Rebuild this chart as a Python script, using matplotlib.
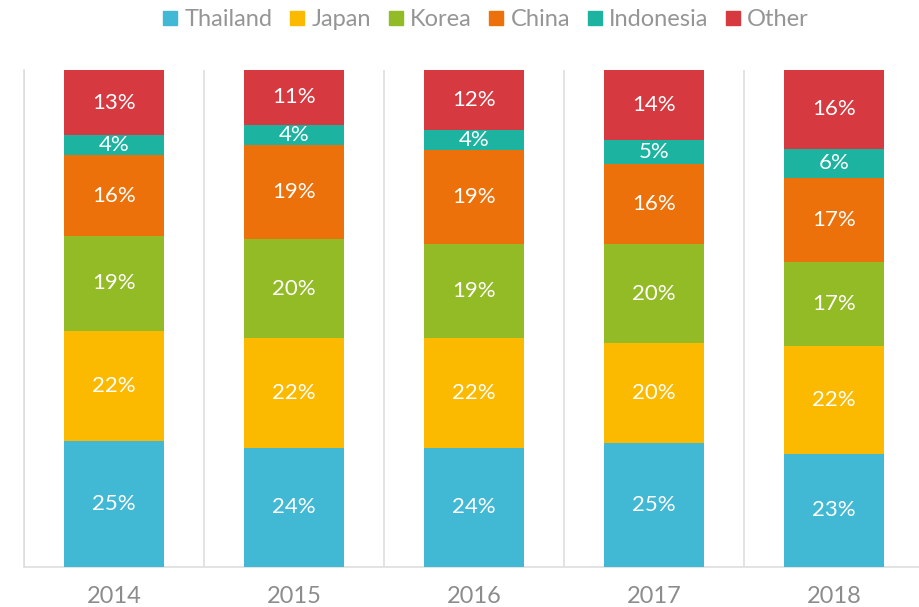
import numpy as np
import matplotlib
matplotlib.use('Agg')
import matplotlib.pyplot as plt
from matplotlib.lines import Line2D

plt.rcParams['font.family'] = ['Lato', 'DejaVu Sans']

years = ['2014', '2015', '2016', '2017', '2018']
series = ['Thailand', 'Japan', 'Korea', 'China', 'Indonesia', 'Other']
colors = ['#41b9d5', '#fbb900', '#93bb25', '#ed710a', '#1cb4a0', '#d6393f']

thailand = [25, 24, 24, 25, 23]
japan = [22, 22, 22, 20, 22]
korea = [19, 20, 19, 20, 17]
china = [16, 19, 19, 16, 17]
indonesia = [4, 4, 4, 5, 6]
other = [13, 11, 12, 14, 16]

data = np.array([thailand, japan, korea, china, indonesia, other], dtype=float)
totals = data.sum(axis=0)
shares = data / totals * 100  # 100% stacked

fig = plt.figure(figsize=(9.2, 6.07), dpi=100)
fig.patch.set_facecolor('white')
ax = fig.add_axes([24 / 920, 40 / 607, 900 / 920, 497 / 607])

x = np.arange(len(years))
bottom = np.zeros(len(years))
for i, name in enumerate(series):
    ax.bar(x, shares[i], width=0.56, bottom=bottom, color=colors[i],
           edgecolor='none', zorder=3)
    for j in range(len(years)):
        ax.text(x[j], bottom[j] + shares[i][j] / 2, '%d%%' % data[i][j],
                ha='center', va='center', color='white', fontsize=16,
                zorder=4)
    bottom += shares[i]

ax.set_xlim(-0.5, 4.5)
ax.set_ylim(0, 100)
ax.set_xticks(x)
ax.set_xticklabels(years, fontsize=17, color='#8c8c8c')
ax.tick_params(axis='x', length=0, pad=14)
ax.set_xticks(np.arange(-0.5, 5, 1), minor=True)
ax.tick_params(axis='x', which='minor', length=0)
ax.grid(axis='x', which='minor', color='#dedede', lw=1.2, zorder=0)
ax.set_yticks([])
for s in ['top', 'right']:
    ax.spines[s].set_visible(False)
ax.spines['left'].set_color('#dedede')
ax.spines['bottom'].set_color('#dedede')
ax.spines['left'].set_linewidth(1.2)
ax.spines['bottom'].set_linewidth(1.2)

handles = [Line2D([], [], marker='s', ls='none', color=c, markersize=10)
           for c in colors]
fig.legend(handles, series, loc='center', bbox_to_anchor=(486 / 920, 1 - 20 / 607),
           ncol=6, frameon=False, handlelength=0.6,
           handletextpad=0.3, columnspacing=0.75, labelcolor='#959595',
           prop={'size': 17})

fig.savefig('out.png', dpi=100)
